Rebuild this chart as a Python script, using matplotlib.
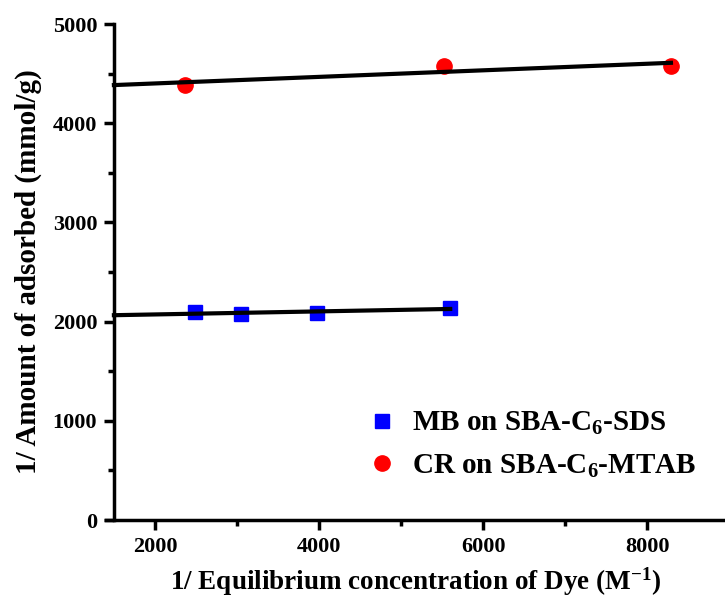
import numpy as np
import matplotlib
matplotlib.use('Agg')
import matplotlib.pyplot as plt

# datos
x_mb = [2485, 3055, 3976, 5600]
y_mb = [2097, 2077, 2087, 2137]
x_cr = [2364, 5527, 8291]
y_cr = [4385, 4577, 4577]

plt.rcParams['font.family'] = ['Liberation Serif', 'DejaVu Serif']
plt.rcParams['font.weight'] = 'bold'
plt.rcParams['mathtext.fontset'] = 'custom'
plt.rcParams['mathtext.rm'] = 'Liberation Serif:bold'
plt.rcParams['mathtext.default'] = 'rm'

fig = plt.figure(figsize=(7.25, 6), dpi=100)
ax = fig.add_axes([105.7 / 725, 80 / 600, (725 - 105.7) / 725, 496 / 600])

ax.plot(x_mb, y_mb, 's', color='#0000ff', markersize=10, label='MB on SBA-C$_6$-SDS', zorder=3)
ax.plot(x_cr, y_cr, 'o', color='#ff0000', markersize=11, label='CR on SBA-C$_6$-MTAB', zorder=3)

# ajuste lineal
for xs, ys in [(x_mb, y_mb), (x_cr, y_cr)]:
    m, b = np.polyfit(xs, ys, 1)
    xx = np.array([1500, max(xs)])
    ax.plot(xx, m * xx + b, '-', color='black', lw=3, zorder=4)

ax.set_xlim(1400, 8950)
ax.set_ylim(0, 5000)
ax.spines['left'].set_position(('data', 1500))
ax.spines['top'].set_visible(False)
ax.spines['right'].set_visible(False)
for s in ['left', 'bottom']:
    ax.spines[s].set_linewidth(2.5)

ax.set_xticks([2000, 4000, 6000, 8000])
ax.set_xticks([3000, 5000, 7000], minor=True)
ax.set_yticks([0, 1000, 2000, 3000, 4000, 5000])
ax.set_yticks([500, 1500, 2500, 3500, 4500], minor=True)
ax.tick_params(which='major', direction='out', length=7, width=2.5, labelsize=16, pad=5)
ax.tick_params(which='minor', direction='out', length=4, width=2.5)

ax.set_xlabel('1/ Equilibrium concentration of Dye (M$^{-1}$)', fontsize=19.5, fontweight='bold', labelpad=6)
ax.set_ylabel('1/ Amount of adsorbed (mmol/g)', fontsize=21, fontweight='bold', labelpad=8)

ax.legend(loc='upper left', bbox_to_anchor=(367 / 725, 1 - 410 / 600), bbox_transform=fig.transFigure,
          frameon=False, handlelength=1.0, handletextpad=0.53, labelspacing=0.52, borderaxespad=0,
          borderpad=0, prop={'weight': 'bold', 'size': 21})

fig.savefig('out.png', dpi=100)
